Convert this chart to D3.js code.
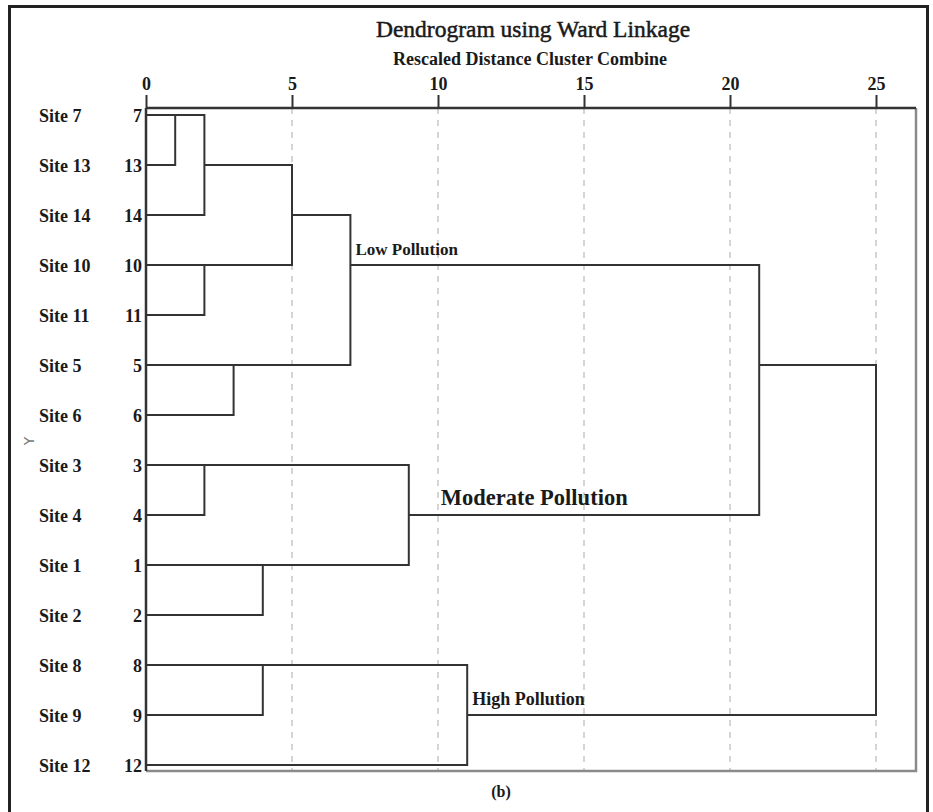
<!DOCTYPE html>
<html>
<head>
<meta charset="utf-8">
<script src="https://cdn.jsdelivr.net/npm/d3@7"></script>
<style>
  body { margin: 0; background: #fff; }
  svg { display: block; }
  text { font-family: "Liberation Serif", "DejaVu Serif", serif; fill: #1a1a1a; }
</style>
</head>
<body>
<svg id="chart" width="933" height="812"></svg>
<script>
// leaves, top to bottom
const leafIds = [7, 13, 14, 10, 11, 5, 6, 3, 4, 1, 2, 8, 9, 12];
const siteLabels = leafIds.map(d => 'Site ' + d);

// agglomeration steps (m1..m13), children are leaf ids or earlier steps
const mergeLeft  = ['7', 'm1', '10', '3', '5', '1', '8', 'm2', 'm8', 'm4', 'm7', 'm9', 'm12'];
const mergeRight = ['13', '14', '11', '4', '6', '2', '9', 'm3', 'm5', 'm6', '12', 'm10', 'm11'];
const mergeDist  = [1, 2, 2, 2, 3, 4, 4, 5, 7, 9, 11, 21, 25];

const distTicks = [0, 5, 10, 15, 20, 25];

const groupNames = ['Low Pollution', 'Moderate Pollution', 'High Pollution'];
const groupSteps = ['m9', 'm10', 'm11'];

const svg = d3.select('#chart');

const x = d3.scaleLinear().domain([0, 25]).range([146, 876]);
const y = d3.scaleLinear().domain([0, leafIds.length - 1]).range([115, 765]);

const plotTop = 108, plotBottom = 771, plotRight = 916;

// build the tree
const nodes = {};
leafIds.forEach((id, i) => {
    nodes[String(id)] = { name: String(id), dist: 0, row: i };
});
mergeDist.forEach((d, i) => {
    const a = nodes[mergeLeft[i]], b = nodes[mergeRight[i]];
    nodes['m' + (i + 1)] = {
        name: 'm' + (i + 1),
        dist: d,
        row: Math.floor((a.row + b.row) / 2),
        children: [a, b]
    };
});
const root = d3.hierarchy(nodes['m' + mergeDist.length]);

// outer frame
svg.append('rect')
    .attr('x', 9.5).attr('y', 6.5)
    .attr('width', 918).attr('height', 820)
    .attr('fill', 'none')
    .attr('stroke', '#222')
    .attr('stroke-width', 3);

// titles
svg.append('text')
    .attr('x', 533).attr('y', 37)
    .attr('text-anchor', 'middle')
    .style('font-size', '23.5px')
    .style('stroke', '#1a1a1a')
    .style('stroke-width', 0.5)
    .text('Dendrogram using Ward Linkage');

svg.append('text')
    .attr('x', 530).attr('y', 65)
    .attr('text-anchor', 'middle')
    .style('font-size', '18px')
    .style('font-weight', 'bold')
    .text('Rescaled Distance Cluster Combine');

// grid
svg.append('g')
    .selectAll('line')
    .data(distTicks.slice(1))
    .join('line')
    .attr('x1', d => x(d)).attr('x2', d => x(d))
    .attr('y1', plotTop).attr('y2', plotBottom)
    .attr('stroke', '#c8c8c8')
    .attr('stroke-width', 1.5)
    .attr('stroke-dasharray', '6,6');

// plot border: right/bottom grey, top/left dark
svg.append('path')
    .attr('d', `M${x(0)},${plotBottom}H${plotRight}V${plotTop}`)
    .attr('fill', 'none')
    .attr('stroke', '#8a8a8a')
    .attr('stroke-width', 2.5);

// top axis
const axis = svg.append('g')
    .attr('transform', `translate(0,${plotTop})`)
    .call(d3.axisTop(x).tickValues(distTicks).tickSize(13).tickPadding(5).tickSizeOuter(0));
axis.select('.domain').remove();
axis.append('line')
    .attr('x1', x(0)).attr('x2', plotRight)
    .attr('stroke', '#333').attr('stroke-width', 2.5);
axis.selectAll('.tick line').attr('stroke', '#333').attr('stroke-width', 2);
axis.selectAll('.tick text')
    .attr('fill', '#1a1a1a')
    .style('font-family', '"Liberation Serif", serif')
    .style('font-size', '18px')
    .style('font-weight', 'bold');

svg.append('line')
    .attr('x1', x(0)).attr('x2', x(0))
    .attr('y1', plotTop).attr('y2', plotBottom)
    .attr('stroke', '#333').attr('stroke-width', 2.5);

// leaf labels
const rows = svg.append('g');
rows.selectAll('text.site')
    .data(siteLabels)
    .join('text')
    .attr('class', 'site')
    .attr('x', 39)
    .attr('y', (d, i) => y(i) + 7)
    .style('font-size', '18px')
    .style('font-weight', 'bold')
    .text(d => d);

rows.selectAll('text.num')
    .data(leafIds)
    .join('text')
    .attr('class', 'num')
    .attr('x', 142)
    .attr('y', (d, i) => y(i) + 7)
    .attr('text-anchor', 'end')
    .style('font-size', '18px')
    .style('font-weight', 'bold')
    .text(d => d);

// dendrogram links
const linkPath = (n) => {
    const p = d3.path();
    const [a, b] = n.children;
    p.moveTo(x(a.data.dist), y(a.data.row));
    p.lineTo(x(n.data.dist), y(a.data.row));
    p.lineTo(x(n.data.dist), y(b.data.row));
    p.lineTo(x(b.data.dist), y(b.data.row));
    return p.toString();
};

svg.append('g')
    .selectAll('path')
    .data(root.descendants().filter(d => d.children))
    .join('path')
    .attr('d', linkPath)
    .attr('fill', 'none')
    .attr('stroke', '#333')
    .attr('stroke-width', 2);

// cluster group labels
const groupStyle = {
    'Low Pollution': { dx: 5, size: 17 },
    'Moderate Pollution': { dx: 32, size: 22.5 },
    'High Pollution': { dx: 5, size: 18 }
};
svg.append('g')
    .selectAll('text')
    .data(groupNames)
    .join('text')
    .attr('x', (d, i) => x(nodes[groupSteps[i]].dist) + groupStyle[d].dx)
    .attr('y', (d, i) => y(nodes[groupSteps[i]].row) - 10)
    .style('font-size', d => groupStyle[d].size + 'px')
    .style('font-weight', 'bold')
    .text(d => d);

// y label
svg.append('text')
    .attr('transform', 'translate(34,441) rotate(-90)')
    .attr('text-anchor', 'middle')
    .style('font-family', '"DejaVu Sans", sans-serif')
    .style('font-size', '14px')
    .style('fill', '#777')
    .text('Y');

svg.append('text')
    .attr('x', 501).attr('y', 797)
    .attr('text-anchor', 'middle')
    .style('font-size', '16px')
    .style('font-weight', 'bold')
    .text('(b)');
</script>
</body>
</html>
